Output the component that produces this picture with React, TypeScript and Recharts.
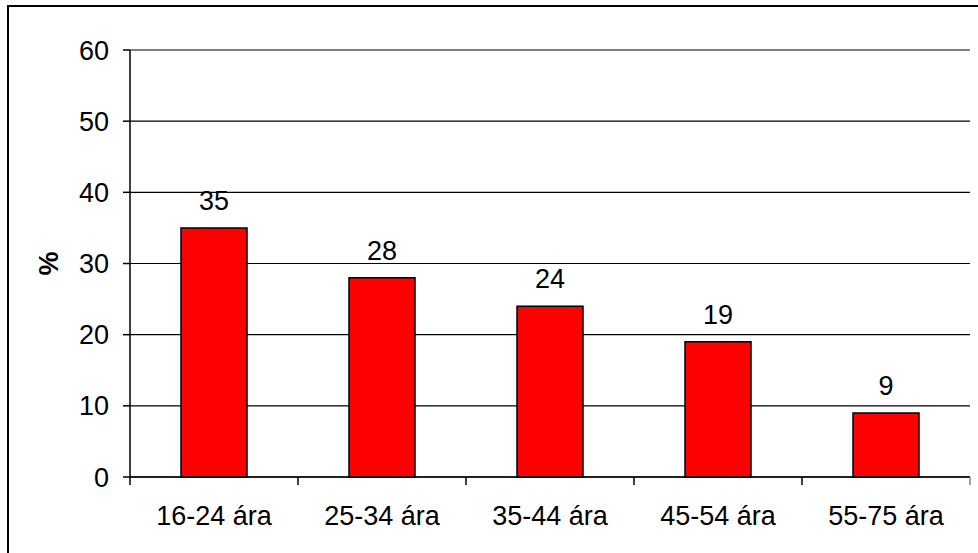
import React from 'react'
import {
  BarChart, Bar, XAxis, YAxis, CartesianGrid, LabelList, ReferenceLine,
} from 'recharts'

const categories = ['16-24 ára', '25-34 ára', '35-44 ára', '45-54 ára', '55-75 ára']
const values = [35, 28, 24, 19, 9]
const yTicks = [0, 10, 20, 30, 40, 50, 60]

const data = categories.map((c, i) => ({ cat: c, value: values[i] }))

const FONT = '"Liberation Sans", Arial, sans-serif'

function XTick(props: any) {
  const { x, y, payload, index, width, visibleTicksCount } = props
  const bw = width && visibleTicksCount ? width / visibleTicksCount : 168
  return (
    <g>
      <line x1={x - bw / 2} y1={y} x2={x - bw / 2} y2={y + 8} stroke="#000" strokeWidth={1.5} />
      {index === visibleTicksCount - 1 && (
        <line x1={x + bw / 2} y1={y} x2={x + bw / 2} y2={y + 8} stroke="#808080" strokeWidth={1.5} />
      )}
      <text x={x} y={y + 48} textAnchor="middle" fontSize={27} fill="#000" fontFamily={FONT}>
        {payload.value}
      </text>
    </g>
  )
}

export default function App() {
  return (
    <div style={{ position: 'absolute', left: 0, top: 0, width: 978, height: 553, overflow: 'hidden', background: '#fff' }}>
      <div style={{ position: 'absolute', left: 7, top: 5, width: 1000, height: 600, border: '2px solid #000' }} />
      <div style={{ position: 'absolute', left: 0, top: 0 }}>
        <BarChart
          width={978}
          height={553}
          data={data}
          margin={{ top: 50, right: 8, bottom: 0, left: 0 }}
          barSize={66}
        >
          <CartesianGrid vertical={false} stroke="#000" strokeWidth={1.2} />
          <ReferenceLine y={60} stroke="#808080" strokeWidth={1.5} />
          <XAxis
            dataKey="cat"
            height={76}
            axisLine={{ stroke: '#000', strokeWidth: 1.5 }}
            tickLine={false}
            tickSize={0}
            tickMargin={0}
            interval={0}
            tick={<XTick />}
          />
          <YAxis
            domain={[0, 60]}
            ticks={yTicks}
            width={130}
            interval={0}
            axisLine={{ stroke: '#000', strokeWidth: 1.5 }}
            tickLine={{ stroke: '#000', strokeWidth: 1.5 }}
            tickSize={7}
            tickMargin={14}
            tick={{ fontSize: 27, fill: '#000', fontFamily: FONT }}
            label={(p: any) => {
              const vb = p.viewBox || { x: 0, y: 50, width: 130, height: 427 }
              const cx = vb.x + 49
              const cy = vb.y + vb.height / 2
              return (
                <text x={cx} y={cy} transform={`rotate(-90 ${cx} ${cy})`} textAnchor="middle" dominantBaseline="central"
                  fontSize={27} fontWeight="bold" fill="#000" fontFamily={FONT}>%</text>
              )
            }}
          />
          <YAxis
            yAxisId="right"
            orientation="right"
            width={0}
            tick={false}
            tickLine={false}
            axisLine={{ stroke: '#808080', strokeWidth: 1.5 }}
          />
          <Bar dataKey="value" fill="#FF0000" stroke="#000" strokeWidth={1.5} isAnimationActive={false}>
            <LabelList dataKey="value" position="top" offset={18} fontSize={27} fill="#000" fontFamily={FONT} />
          </Bar>
        </BarChart>
      </div>
    </div>
  )
}
